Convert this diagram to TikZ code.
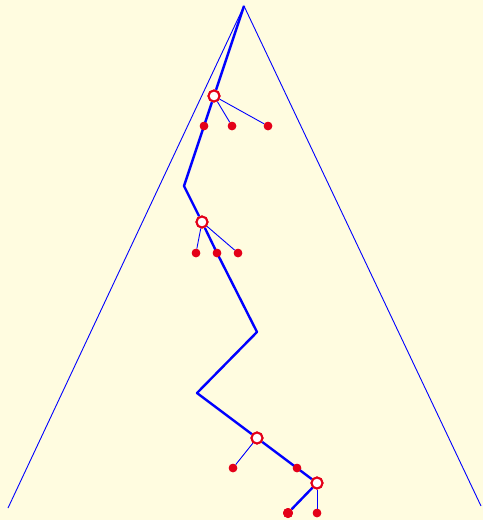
\documentclass[tikz,border=0pt]{standalone}
\definecolor{bg}{RGB}{255,252,224}
\definecolor{tblue}{RGB}{0,0,255}
\definecolor{tred}{RGB}{228,0,24}
\begin{document}
\begin{tikzpicture}[x=1pt,y=-1pt,
  thin edge/.style={draw=tblue,line width=0.9pt},
  thick edge/.style={draw=tblue,line width=2.4pt,line join=round},
  hollow/.style={circle,draw=tred,fill=white,line width=2pt,minimum size=11pt,inner sep=0pt},
  dot/.style={circle,fill=tred,minimum size=8.5pt,inner sep=0pt},
  bigdot/.style={circle,fill=tred,minimum size=10pt,inner sep=0pt}]
\fill[bg] (0,0) rectangle (483,520);
\useasboundingbox (0,0) rectangle (483,520);
\coordinate (apex) at (244,6);
\coordinate (bl) at (8,508);
\coordinate (br) at (481,506);
\coordinate (c1) at (184,186);
\coordinate (c2) at (257,332);
\coordinate (c3) at (197,393);
% triangle
\draw[thin edge] (bl) -- (apex) -- (br);
% nodes
\node[hollow] (n1) at (214,96) {};
\node[dot] (a1) at (204,126) {};
\node[dot] (a2) at (232,126) {};
\node[dot] (a3) at (268,126) {};
\node[hollow] (n2) at (202,222) {};
\node[dot] (b1) at (196,253) {};
\node[dot] (b2) at (217,253) {};
\node[dot] (b3) at (238,253) {};
\node[hollow] (n3) at (257,438) {};
\node[dot] (d1) at (233,468) {};
\node[dot] (d2) at (297,468) {};
\node[hollow] (n4) at (317,483) {};
\node[bigdot] (e1) at (288,513) {};
\node[dot] (e2) at (317,513) {};
% thin edges
\begin{scope}[on background layer/.style={}]
\end{scope}
\draw[thin edge] (n1) -- (a2);
\draw[thin edge] (n1) -- (a3);
\draw[thin edge] (n2) -- (b1);
\draw[thin edge] (n2) -- (b3);
\draw[thin edge] (n3) -- (d1);
\draw[thin edge] (n4) -- (e2);
% thick path
\draw[thick edge] (apex) -- (n1) -- (a1.center) -- (c1) -- (n2) -- (b2.center) -- (c2) -- (c3) -- (n3) -- (d2.center) -- (n4) -- (e1);
% redraw nodes on top
\node[hollow] at (n1) {};
\node[dot] at (a1) {};
\node[dot] at (a2) {};
\node[dot] at (a3) {};
\node[hollow] at (n2) {};
\node[dot] at (b1) {};
\node[dot] at (b2) {};
\node[dot] at (b3) {};
\node[hollow] at (n3) {};
\node[dot] at (d1) {};
\node[dot] at (d2) {};
\node[hollow] at (n4) {};
\node[bigdot] at (e1) {};
\node[dot] at (e2) {};
\end{tikzpicture}
\end{document}
